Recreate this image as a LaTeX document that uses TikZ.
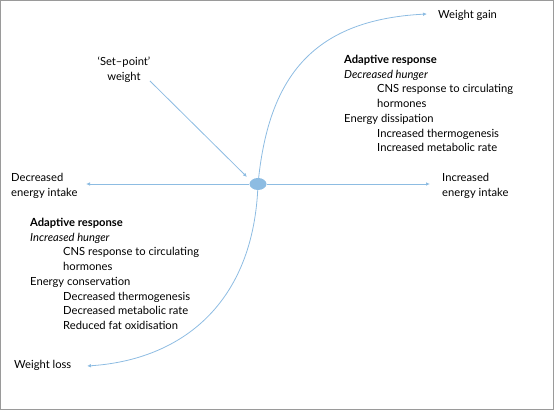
\documentclass[tikz,border=0pt]{standalone}
\usepackage{fontspec}
\setmainfont{Lato}
\usetikzlibrary{arrows.meta, shapes.geometric}
\definecolor{linkblue}{HTML}{8DBCE2}
\definecolor{framegray}{HTML}{9A9A9A}

\begin{document}
\begin{tikzpicture}[x=1pt, y=-1pt,
  lbl/.style={inner sep=0pt, align=left, font=\fontsize{11.2}{14.7}\selectfont},
  block/.style={lbl, anchor=north west},
  flow/.style={-{Latex[length=4pt, width=3.6pt]}, draw=linkblue, line width=0.8pt},
]
\useasboundingbox (0,0) rectangle (555,411);
\draw[framegray, line width=1pt] (0.5,0.5) rectangle (553.5,410);
% centre point
\node[ellipse, draw=none, fill=linkblue, minimum width=17pt, minimum height=12pt, inner sep=0pt] (setpt) at (258,184) {};
% end points of the axes
\coordinate (lessin) at (86,184);
\coordinate (morein) at (430,184);
\coordinate (gain) at (427,14);
\coordinate (loss) at (87,366);
\coordinate (spfoot) at (150,81);
% labels
\node[lbl, align=center] (splabel) at (124,70) {`Set--point'\\weight};
\node[lbl, anchor=west] (gaintxt) at (438,15) {Weight gain};
\node[lbl, anchor=west] (losstxt) at (14,365) {Weight loss};
\node[lbl, anchor=west] (lesstxt) at (11,186) {Decreased\\energy intake};
\node[lbl, anchor=west] (moretxt) at (442,186) {Increased\\energy intake};
% adaptive responses
\node[block] (upresp) at (344,55) {\textbf{Adaptive response}\\
  \textit{Decreased hunger}\\
  \hspace*{33pt}CNS response to circulating\\
  \hspace*{33pt}hormones\\
  Energy dissipation\\
  \hspace*{33pt}Increased thermogenesis\\
  \hspace*{33pt}Increased metabolic rate};
\node[block] (downresp) at (30,218) {\textbf{Adaptive response}\\
  \textit{Increased hunger}\\
  \hspace*{33pt}CNS response to circulating\\
  \hspace*{33pt}hormones\\
  Energy conservation\\
  \hspace*{33pt}Decreased thermogenesis\\
  \hspace*{33pt}Decreased metabolic rate\\
  \hspace*{33pt}Reduced fat oxidisation};
% arrows
\draw[flow] (setpt) -- (lessin);
\draw[flow] (setpt) -- (morein);
\draw[flow] (spfoot) -- (247,177);
\draw[flow] (setpt.center) .. controls (268,80) and (310,20) .. (gain);
\draw[flow] (setpt.center) .. controls (254,305) and (180,360) .. (loss);
\end{tikzpicture}
\end{document}
